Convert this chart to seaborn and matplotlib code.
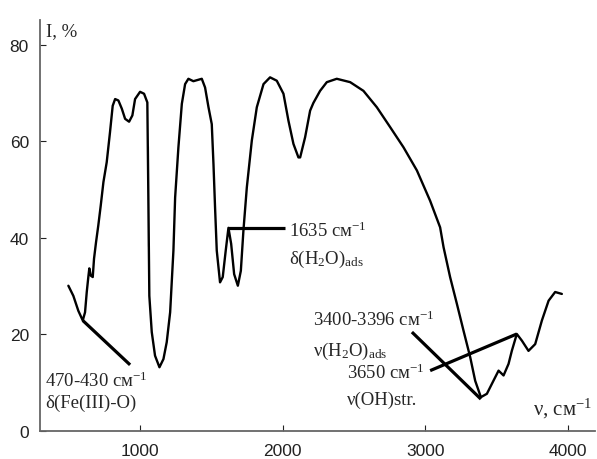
import numpy as np
import pandas as pd
import matplotlib
matplotlib.use("Agg")
import matplotlib.pyplot as plt
import seaborn as sns

# IR spectrum: wavenumber (cm-1) and intensity (%)
wavenumber = [497, 532, 567, 598, 614, 626, 637, 644, 654, 668, 677, 691, 707, 724,
              743, 766, 789, 808, 825, 848, 872, 895, 923, 946, 965, 1000, 1028, 1051,
              1058, 1058, 1065, 1082, 1105, 1136, 1164, 1187, 1211, 1234, 1246, 1269,
              1293, 1316, 1339, 1374, 1433, 1456, 1480, 1503, 1515, 1526, 1538, 1561,
              1580, 1601, 1620, 1639, 1660, 1686, 1707, 1725, 1749, 1784, 1819, 1866,
              1912, 1959, 2006, 2041, 2076, 2111, 2123, 2158, 2193, 2216, 2263, 2310,
              2380, 2474, 2567, 2661, 2754, 2848, 2942, 3035, 3105, 3129, 3175, 3223,
              3269, 3316, 3351, 3391, 3433, 3479, 3515, 3550, 3585, 3608, 3643, 3679,
              3725, 3772, 3819, 3866, 3912, 3959]
intensity = [30.1, 28.0, 24.9, 22.9, 24.6, 28.8, 31.9, 33.7, 32.2, 31.9, 35.7, 39.1,
             42.6, 46.7, 51.6, 55.7, 61.9, 67.4, 68.8, 68.5, 66.8, 64.7, 64.1, 65.4,
             68.8, 70.3, 69.9, 68.1, 59.1, 38.4, 28.0, 20.5, 15.6, 13.2, 14.9, 18.4,
             24.6, 37.4, 48.4, 58.8, 67.8, 71.9, 73.0, 72.5, 73.0, 71.2, 67.1, 63.6,
             55.3, 46.4, 37.4, 30.8, 31.9, 37.4, 42.1, 38.8, 32.5, 30.1, 33.2, 41.5,
             50.5, 60.2, 67.1, 71.9, 73.3, 72.6, 69.9, 64.3, 59.5, 56.7, 56.7, 60.9,
             66.4, 68.0, 70.5, 72.3, 73.0, 72.3, 70.5, 67.1, 63.0, 58.8, 54.0, 47.7,
             42.2, 38.1, 31.9, 26.3, 20.8, 15.3, 10.4, 7.0, 7.7, 10.4, 12.5, 11.5,
             13.9, 16.6, 20.1, 18.7, 16.6, 18.0, 22.9, 27.0, 28.8, 28.4]

# annotation leader lines (start, end) and labels
leaders = [((598, 22.9), (930, 13.7)),
           ((1620, 42.1), (2018, 42.1)),
           ((2907, 20.5), (3391, 6.6)),
           ((3035, 12.5), (3643, 20.1))]
labels = [(333, 10.6, "470-430 см$^{-1}$"),
          (333, 6.0, "δ(Fe(III)-O)"),
          (2045, 41.5, "1635 см$^{-1}$"),
          (2045, 35.7, "δ(H$_2$O)$_{\\mathrm{ads}}$"),
          (2210, 23.2, "3400-3396 см$^{-1}$"),
          (2210, 16.6, "ν(H$_2$O)$_{\\mathrm{ads}}$"),
          (2455, 12.2, "3650 см$^{-1}$"),
          (2455, 6.6, "ν(OH)str.")]

df = pd.DataFrame({"wavenumber": wavenumber, "intensity": intensity})

sns.set_style("ticks")
plt.rcParams["mathtext.fontset"] = "custom"
plt.rcParams["mathtext.rm"] = "Liberation Serif"
plt.rcParams["mathtext.it"] = "Liberation Serif:italic"
plt.rcParams["font.family"] = ["Liberation Sans", "DejaVu Sans"]

fig = plt.figure(figsize=(5.97, 4.60), dpi=100)
ax = fig.add_axes([0.067, 0.061, 0.93, 0.8935])

sns.lineplot(data=df, x="wavenumber", y="intensity", ax=ax, color="black",
             linewidth=1.7, sort=False)

for (x0, y0), (x1, y1) in leaders:
    ax.plot([x0, x1], [y0, y1], color="black", linewidth=2.3,
            solid_capstyle="butt")

serif = ["Liberation Serif", "DejaVu Serif"]
for x, y, s in labels:
    ax.text(x, y, s, fontsize=13.5, family=serif, va="center", ha="left")

ax.text(0.01, 0.995, "I, %", transform=ax.transAxes, fontsize=13.5, family=serif,
        va="top", ha="left")
ax.text(3758, 4.8, "ν, см$^{-1}$", fontsize=15, family=serif, va="center", ha="left")

ax.set_xlim(298, 4193)
ax.set_ylim(0, 85.2)
ax.set_xticks([1000, 2000, 3000, 4000])
ax.set_yticks([0, 20, 40, 60, 80])
ax.set_xlabel("")
ax.set_ylabel("")
ax.tick_params(direction="in", length=4, labelsize=12.5, colors="#222222", pad=8)
ax.tick_params(axis="x", pad=9)
for sp in ["left", "bottom"]:
    ax.spines[sp].set_color("#666666")
    ax.spines[sp].set_linewidth(1.3)
sns.despine(ax=ax)

fig.savefig("out.png", dpi=100)
